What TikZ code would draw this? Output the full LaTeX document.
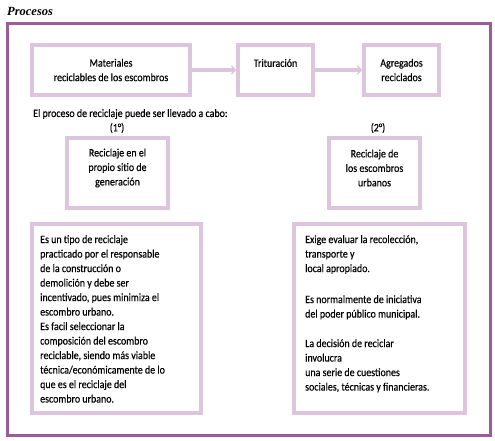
\documentclass[tikz,border=0pt]{standalone}
\usepackage{fontspec}
\setmainfont{Carlito}[FakeStretch=0.88,FakeBold=0.4]
\newfontfamily\titlefont{Liberation Serif}
\usetikzlibrary{arrows.meta}
\definecolor{outerc}{HTML}{9C5C9C}
\definecolor{innerc}{HTML}{DDC5DD}
\tikzset{
  x=1pt,y=-1pt,
  box/.style={draw=innerc,line width=3.5pt,inner sep=0pt},
  txt/.style={font=\fontsize{11.3}{14.5}\selectfont,align=center,inner sep=0pt},
  btxt/.style={font=\fontsize{11.3}{14.5}\selectfont,align=left,inner sep=0pt,anchor=north west},
  flow/.style={draw=innerc,line width=3.5pt,-{Straight Barb[length=4pt,width=8pt,line width=1.2pt]}}
}
\begin{document}
\begin{tikzpicture}
\useasboundingbox (0,0) rectangle (495,441);
\node[font=\titlefont\bfseries\itshape\fontsize{12.5}{14}\selectfont,anchor=west,inner sep=0pt] (title) at (7,11) {Procesos};
\draw[draw=outerc,line width=3pt] (7,24) rectangle (490,435);
% top row
\draw[box] (32,45) rectangle (190,95);
\node[box,draw=none,minimum width=158pt,minimum height=50pt] (mat) at (111,70) {};
\draw[box] (238,45) rectangle (313,95);
\node[box,draw=none,minimum width=75pt,minimum height=50pt] (tri) at (275.5,70) {};
\draw[box] (364,45) rectangle (439,95);
\node[box,draw=none,minimum width=75pt,minimum height=50pt] (agr) at (401.5,70) {};
\node[txt] (matt) at (111,70) {Materiales\\reciclables de los escombros};
\node[txt] (trit) at (275.5,63) {Trituración};
\node[txt] (agrt) at (401.5,70) {Agregados\\reciclados};
\draw[flow] (mat.east) -- (tri.west);
\draw[flow] (tri.east) -- (agr.west);
% middle
\node[txt,anchor=west] (intro) at (33,114) {El proceso de reciclaje puede ser llevado a cabo:};
\node[txt] (n1) at (117,128) {(1°)};
\node[txt] (n2) at (378,128) {(2°)};
\draw[box] (67,138) rectangle (168,208);
\node[txt] (r1) at (117.5,168) {Reciclaje en el\\propio sitio de\\generación};
\draw[box] (329,138) rectangle (420,208);
\node[txt] (r2) at (374.5,168) {Reciclaje de\\los escombros\\urbanos};
% bottom boxes
\draw[box] (32,224) rectangle (201,413);
\node[btxt] (b1) at (40,235) {Es un tipo de reciclaje\\practicado por el responsable\\de la construcción o\\demolición y debe ser\\incentivado, pues minimiza el\\escombro urbano.\\Es facil seleccionar la\\composición del escombro\\reciclable, siendo más viable\\técnica/económicamente de lo\\que es el reciclaje del\\escombro urbano.};
\draw[box] (294,224) rectangle (465,413);
\node[btxt] (b2) at (305,235) {Exige evaluar la recolección,\\transporte y\\local apropiado.\\[16.5pt]Es normalmente de iniciativa\\del poder público municipal.\\[15pt]La decisión de reciclar\\involucra\\una serie de cuestiones\\sociales, técnicas y financieras.};
\end{tikzpicture}
\end{document}
